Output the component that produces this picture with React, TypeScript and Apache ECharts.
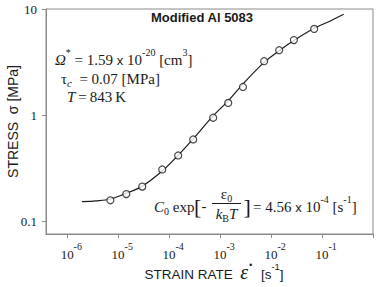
import React, { useEffect, useRef } from "react";
import * as echarts from "echarts";

// measured data points (strain rate [1/s], stress [MPa])
const pointStrain = [7e-6, 1.44e-5, 2.96e-5, 7.3e-5, 1.5e-4, 2.96e-4, 7.3e-4, 1.44e-3, 2.8e-3, 7.3e-3, 1.44e-2, 2.8e-2, 7e-2];
const pointStress = [0.159, 0.182, 0.214, 0.31, 0.42, 0.594, 0.95, 1.31, 1.85, 3.23, 4.1, 5.1, 6.5];

// fitted curve
const fitStrain = [1.94e-6, 3.65e-6, 6.87e-6, 1.42e-5, 2.92e-5, 7.2e-5, 1.48e-4, 2.92e-4, 7.2e-4, 1.42e-3, 2.79e-3, 7.2e-3, 1.42e-2, 2.79e-2, 6.87e-2, 0.135, 0.266];
const fitStress = [0.1545, 0.1574, 0.1626, 0.185, 0.215, 0.298, 0.418, 0.597, 0.983, 1.36, 1.97, 3.13, 4.03, 5.05, 6.55, 7.59, 8.91];

// axis ticks
const xTickValues = [1e-6, 1e-5, 1e-4, 1e-3, 1e-2, 1e-1, 1];
const xLabelValues = [1e-6, 1e-5, 1e-4, 1e-3, 1e-2, 1e-1];
const yTickValues = [0.1, 1, 10];
const yTickLabels = ["0.1", "1", "10"];

const xMin = 3.82e-7;
const xMax = 1;
const yMin = 0.0767;
const yMax = 10;

const titleText = "Modified Al 5083";
const xName = "STRAIN RATE";
const yName = "STRESS  σ [MPa]";

const SERIF = "Liberation Serif";
const SANS = "Liberation Sans";
const AX = "#8a8a8a";
const INK = "#1a1a1a";

// superscript lines: base centered in a 26px line, superscripts hang from the top
const supRich = {
  n: { fontFamily: SERIF, fontSize: 15, lineHeight: 26, verticalAlign: "middle", fill: INK },
  it: { fontFamily: SERIF, fontSize: 15, fontStyle: "italic", lineHeight: 26, verticalAlign: "middle", fill: INK },
  x: { fontFamily: SANS, fontSize: 13, lineHeight: 26, verticalAlign: "middle", fill: INK },
  sup: { fontFamily: SERIF, fontSize: 10, lineHeight: 10, verticalAlign: "top", fill: INK },
};

// subscript lines: base centered in an 18px line, subscripts sit on the bottom
const subRich = {
  n: { fontFamily: SERIF, fontSize: 15, lineHeight: 18, verticalAlign: "middle", fill: INK },
  it: { fontFamily: SERIF, fontSize: 15, fontStyle: "italic", lineHeight: 18, verticalAlign: "middle", fill: INK },
  sub: { fontFamily: SERIF, fontSize: 10, lineHeight: 10, verticalAlign: "bottom", fill: INK },
  subi: { fontFamily: SERIF, fontSize: 11, fontStyle: "italic", lineHeight: 11, verticalAlign: "bottom", fill: INK },
};

function txt(x: number, y: number, text: string, rich: any, align = "left") {
  return {
    type: "text",
    x,
    y,
    silent: true,
    style: { text, rich, align, verticalAlign: "middle", fill: INK },
  };
}

function plain(x: number, y: number, text: string, font: string, align = "left") {
  return {
    type: "text",
    x,
    y,
    silent: true,
    style: { text, font, fill: INK, align, verticalAlign: "middle" },
  };
}

export default function App() {
  const ref = useRef<HTMLDivElement>(null);
  useEffect(() => {
    if (!ref.current) return;
    const chart = echarts.init(ref.current, undefined, { renderer: "svg" });
    const option: any = {
      animation: false,
      backgroundColor: "#ffffff",
      grid: {
        left: 46,
        right: 9,
        top: 9,
        bottom: 53,
        containLabel: false,
        outerBoundsMode: "none",
        show: true,
        borderColor: AX,
        borderWidth: 1,
        backgroundColor: "transparent",
      },
      xAxis: {
        type: "log",
        min: xMin,
        max: xMax,
        name: `{n|${xName}  }{e|ε}{d|˙}{n|  [s}{s|-1}{n|]}`,
        nameLocation: "middle",
        nameGap: 27.5,
        nameMoveOverlap: false,
        nameTextStyle: {
          padding: [0, 0, 0, 9],
          rich: {
            n: { fontFamily: SANS, fontSize: 13.5, lineHeight: 20, verticalAlign: "bottom", color: INK },
            e: { fontFamily: SERIF, fontSize: 20, fontStyle: "italic", lineHeight: 20, verticalAlign: "bottom", color: INK },
            d: { fontFamily: SERIF, fontSize: 16, fontWeight: "bold", lineHeight: 12, verticalAlign: "top", color: INK },
            s: { fontFamily: SANS, fontSize: 9.5, lineHeight: 10, verticalAlign: "top", color: INK },
          },
        },
        axisLine: { show: true, lineStyle: { color: AX, width: 1 } },
        axisTick: { show: true, inside: false, length: 4, lineStyle: { color: AX }, customValues: xTickValues },
        splitLine: { show: false },
        minorTick: { show: false },
        axisLabel: {
          customValues: xLabelValues,
          margin: 7,
          formatter: (v: number) => `{sp|}{b|10}{s|${Math.round(Math.log10(v))}}`,
          rich: {
            sp: { width: 8, lineHeight: 20 },
            b: { fontFamily: SERIF, fontSize: 13, lineHeight: 20, verticalAlign: "bottom", color: INK },
            s: { fontFamily: SERIF, fontSize: 10, lineHeight: 10, verticalAlign: "top", color: INK },
          },
        },
      },
      yAxis: {
        type: "log",
        min: yMin,
        max: yMax,
        name: yName,
        nameLocation: "middle",
        nameGap: 26,
        nameMoveOverlap: false,
        nameTextStyle: { fontFamily: SANS, fontSize: 14, color: INK },
        axisLine: { show: true, lineStyle: { color: AX, width: 1 } },
        axisTick: { show: true, inside: false, length: 4, lineStyle: { color: AX }, customValues: yTickValues },
        splitLine: { show: false },
        minorTick: { show: false },
        axisLabel: {
          customValues: yTickValues,
          margin: 9,
          fontFamily: SERIF,
          fontSize: 13,
          color: INK,
          formatter: (v: number) => yTickLabels[yTickValues.findIndex((t) => Math.abs(Math.log10(t) - Math.log10(v)) < 1e-6)] ?? "",
        },
      },
      series: [
        {
          type: "line",
          data: fitStrain.map((x, i) => [x, fitStress[i]]),
          smooth: 0.3,
          showSymbol: false,
          symbol: "none",
          lineStyle: { color: INK, width: 1.2 },
          z: 2,
        },
        {
          type: "scatter",
          data: pointStrain.map((x, i) => [x, pointStress[i]]),
          symbol: "circle",
          symbolSize: 7,
          itemStyle: { color: "#ffffff", borderColor: INK, borderWidth: 1.2 },
          z: 3,
        },
      ],
      graphic: [
        plain(202, 17, titleText, `bold 13px ${SANS}`, "center"),
        txt(55, 60, "{it|Ω}{sup|*}{n| = 1.59 }{x|x}{n| 10}{sup|-20}{n| [cm}{sup|3}{n|]}", supRich),
        txt(61, 79, "{n|τ}{subi|c}{n|  = 0.07 [MPa]}", subRich),
        txt(67, 97, "{it|T}{n|\u2009=\u2009843\u2009K}", subRich),
        txt(154, 207, "{it|C}{sub|0}{n| exp}", subRich),
        plain(194, 206, "[", `22px ${SERIF}`),
        plain(201.5, 206, "-", `15px ${SERIF}`),
        txt(226.5, 194, "{n|ε}{sub|0}", subRich, "center"),
        {
          type: "line",
          silent: true,
          shape: { x1: 212, y1: 203.5, x2: 241, y2: 203.5 },
          style: { stroke: INK, lineWidth: 1 },
        },
        txt(226.5, 214, "{it|k}{sub|B}{it|T}", subRich, "center"),
        plain(243.5, 206, "]", `22px ${SERIF}`),
        txt(253, 207, "{n|= 4.56 }{x|x}{n| 10}{sup|-4}{n| [s}{sup|-1}{n|]}", supRich),
      ],
    };
    chart.setOption(option);
    return () => chart.dispose();
  }, []);
  return <div ref={ref} style={{ position: "fixed", left: 0, top: 0, width: 382, height: 287 }} />;
}
